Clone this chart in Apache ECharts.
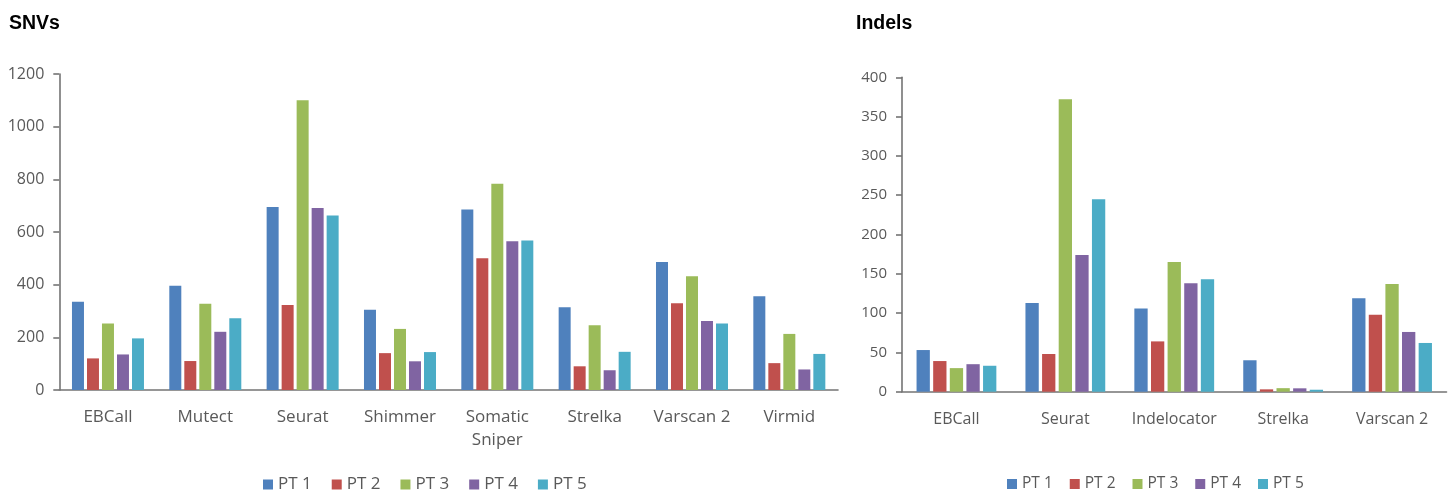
<!DOCTYPE html>
<html>
<head>
<meta charset="utf-8">
<script src="https://cdn.jsdelivr.net/npm/echarts@6/dist/echarts.min.js"></script>
<style>
html,body{margin:0;padding:0;background:#fff;}
#chart{width:1453px;height:493px;}
</style>
</head>
<body>
<div id="chart"></div>
<script>
// ---- data ----
const seriesNames = ['PT 1', 'PT 2', 'PT 3', 'PT 4', 'PT 5'];
const snvCategories = ['EBCall', 'Mutect', 'Seurat', 'Shimmer', 'Somatic\nSniper', 'Strelka', 'Varscan 2', 'Virmid'];
const indelCategories = ['EBCall', 'Seurat', 'Indelocator', 'Strelka', 'Varscan 2'];
const snvTicks = [0, 200, 400, 600, 800, 1000, 1200];
const indelTicks = [0, 50, 100, 150, 200, 250, 300, 350, 400];

const snvPT1 = [335, 396, 695, 305, 685, 314, 486, 356];
const snvPT2 = [120, 110, 323, 140, 500, 90, 329, 102];
const snvPT3 = [253, 328, 1100, 232, 783, 246, 432, 213];
const snvPT4 = [135, 221, 691, 109, 565, 75, 262, 78];
const snvPT5 = [196, 272, 663, 144, 568, 145, 253, 137];

const indelPT1 = [53, 113, 106, 40, 119];
const indelPT2 = [39, 48, 64, 3, 98];
const indelPT3 = [30, 372, 165, 4.5, 137];
const indelPT4 = [35, 174, 138, 4.3, 76];
const indelPT5 = [33, 245, 143, 2.5, 62];

const colors = ['#4F81BD', '#C0504D', '#9BBB59', '#8064A2', '#4BACC6'];
const snvData = [snvPT1, snvPT2, snvPT3, snvPT4, snvPT5];
const indelData = [indelPT1, indelPT2, indelPT3, indelPT4, indelPT5];

// ---- chart ----
const FONT = '"Open Sans", sans-serif';
const axisColor = '#747474';
const labelColor = '#595959';

function yAxis(gridIndex, ticks, fs) {
  return {
    type: 'value', gridIndex: gridIndex,
    min: ticks[0], max: ticks[ticks.length - 1], interval: ticks[1] - ticks[0],
    axisLine: {show: true, lineStyle: {color: axisColor, width: 1.6}},
    axisTick: {show: true, length: 6, lineStyle: {color: axisColor, width: 1.6}},
    splitLine: {show: false},
    axisLabel: {color: labelColor, fontFamily: FONT, fontSize: fs, margin: 15,
                formatter: function (v) { return String(v); }}
  };
}
function xAxis(gridIndex, cats, fs) {
  return {
    type: 'category', gridIndex: gridIndex, data: cats,
    axisLine: {show: true, lineStyle: {color: axisColor, width: 1.6}},
    axisTick: {show: false},
    axisLabel: {color: labelColor, fontFamily: FONT, fontSize: fs, margin: 16, lineHeight: 23, interval: 0}
  };
}

const series = [];
seriesNames.forEach((name, i) => {
  series.push({
    name: name, type: 'bar', xAxisIndex: 0, yAxisIndex: 0,
    data: snvData[i], barWidth: 12, barGap: '25%',
    itemStyle: {color: colors[i]}
  });
});
seriesNames.forEach((name, i) => {
  series.push({
    name: name, type: 'bar', xAxisIndex: 1, yAxisIndex: 1,
    data: indelData[i], barWidth: 13.3, barGap: '25%',
    itemStyle: {color: colors[i]}
  });
});

const titleStyle = {fontFamily: '"Liberation Sans", Arial, sans-serif', fontWeight: 'bold', fontSize: 19.5, color: '#000'};
const chart = echarts.init(document.getElementById('chart'));
chart.setOption({
  animation: false,
  color: colors,
  title: [
    {text: 'SNVs', left: 9, top: 14, padding: 0, textStyle: titleStyle},
    {text: 'Indels', left: 856, top: 14, padding: 0, textStyle: titleStyle}
  ],
  legend: [
    {data: seriesNames, left: 263, top: 476, padding: 0, itemWidth: 10, itemHeight: 10, itemGap: 20, icon: 'rect',
     textStyle: {color: labelColor, fontFamily: FONT, fontSize: 17}},
    {data: seriesNames, left: 1007, top: 476, padding: 0, itemWidth: 10, itemHeight: 10, itemGap: 17, icon: 'rect',
     textStyle: {color: labelColor, fontFamily: FONT, fontSize: 15.5}}
  ],
  grid: [
    {left: 59.3, right: 615, top: 74, bottom: 103, containLabel: false},
    {left: 902, right: 6.5, top: 77.3, bottom: 101.3, containLabel: false}
  ],
  xAxis: [xAxis(0, snvCategories, 17), xAxis(1, indelCategories, 16)],
  yAxis: [yAxis(0, snvTicks, 16), yAxis(1, indelTicks, 15)],
  series: series
});
</script>
</body>
</html>
